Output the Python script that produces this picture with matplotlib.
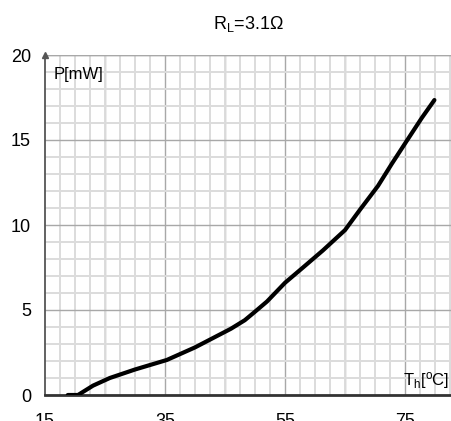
"""Output power vs hot-side temperature, R_L = 3.1 ohm"""
import matplotlib
matplotlib.use('Agg')
import matplotlib.pyplot as plt
import numpy as np

plt.rcParams.update({
    'font.family': ['Liberation Sans', 'DejaVu Sans'],
    'mathtext.fontset': 'custom',
    'mathtext.rm': 'Liberation Sans',
    'mathtext.it': 'Liberation Sans:italic',
})

temp = [18.8, 20.5, 23.0, 25.8, 30.0, 35.3, 40.0, 43.0, 46.0, 48.3, 50.0,
        52.0, 55.0, 58.0, 61.3, 65.0, 67.5, 70.5, 72.8, 75.2, 77.8, 79.9]
power = [0.0, 0.0, 0.55, 1.0, 1.5, 2.06, 2.8, 3.35, 3.9, 4.4, 4.9,
         5.5, 6.6, 7.5, 8.5, 9.7, 10.9, 12.3, 13.6, 14.9, 16.3, 17.35]

x_ticks = [15, 35, 55, 75]
y_ticks = [0, 5, 10, 15, 20]
x_major_grid = [25, 35, 45, 55, 65, 75]

fig = plt.figure(figsize=(4.51, 4.21), dpi=100)
ax = fig.add_axes([45 / 451, 26 / 421, 406 / 451, 340 / 421])

ax.set_xlim(15, 15 + 406 / 6)
ax.set_ylim(0, 20)
ax.set_xticks(x_ticks)
ax.set_yticks(y_ticks)
ax.set_xticks(np.arange(15, 83, 2.5), minor=True)
ax.set_yticks(np.arange(0, 20.1, 1), minor=True)
ax.grid(which='minor', color='#dcdcdc', lw=1.4, zorder=0)
ax.grid(which='major', axis='y', color='#a8a8a8', lw=1.0, zorder=0)
for gx in x_major_grid:
    ax.axvline(gx, color='#a8a8a8', lw=1.0, zorder=0.5)
ax.set_axisbelow(True)
ax.tick_params(which='both', length=0, labelsize=13, colors='black')
ax.tick_params(axis='x', pad=13)
ax.tick_params(axis='y', pad=10)

for s in ['top', 'right']:
    ax.spines[s].set_visible(False)
ax.spines['left'].set_color('#555555')
ax.spines['left'].set_linewidth(1.3)
ax.spines['bottom'].set_color('#333333')
ax.spines['bottom'].set_linewidth(2)
ax.axhline(20, color='#a8a8a8', lw=1.0, zorder=1)
ax.plot([15], [20], marker='^', color='#555555', ms=5, clip_on=False, zorder=5)

ax.plot(temp, power, color='black', lw=3, solid_capstyle='round', zorder=4)

ax.text(16.5, 18.4, 'P[mW]', fontsize=12, ha='left', va='bottom')
ax.text(82.4, 0.25, r'T$_\mathregular{h}$[$^\mathregular{o}$C]', fontsize=12,
        ha='right', va='bottom')
ax.set_title(r'R$_\mathregular{L}$=3.1Ω', fontsize=13, pad=19)

fig.savefig('out.png', dpi=100)
